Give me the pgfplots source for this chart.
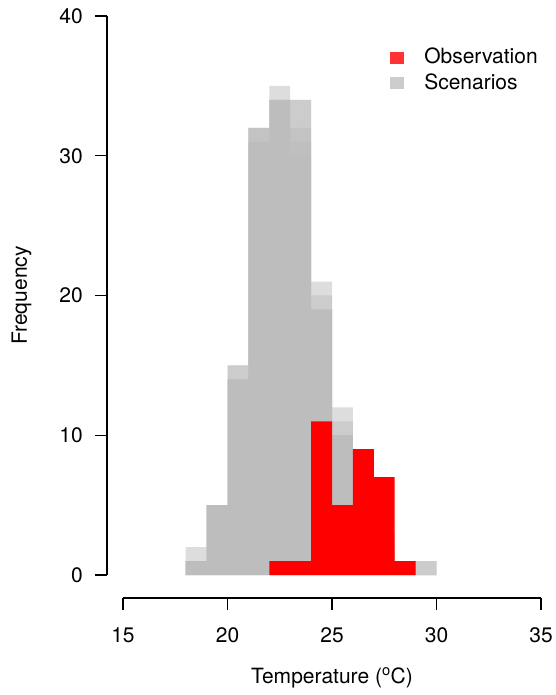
\documentclass[border=0pt]{standalone}
\usepackage{pgfplots}
\pgfplotsset{compat=1.18}
\usepackage{fontspec}
\setmainfont{TeX Gyre Heros}

\definecolor{scen}{HTML}{BBBBBB}
\definecolor{obsred}{HTML}{FF0000}
\definecolor{legred}{HTML}{FF3333}
\definecolor{leggray}{HTML}{CCCCCC}

\begin{document}
\fontsize{21}{25}\selectfont
\begin{tikzpicture}
\path[use as bounding box] (0pt,0pt) rectangle (556pt,695pt);
\begin{axis}[
    at={(123pt,120pt)}, anchor=south west,
    scale only axis, width=418pt, height=559pt,
    xmin=15, xmax=35, ymin=0, ymax=40,
    axis x line=bottom, axis y line=left,
    axis x line shift=23pt, axis y line shift=16pt,
    axis line style={-, line width=1.2pt},
    xtick={15,20,25,30,35}, ytick={0,10,20,30,40},
    minor tick num=0,
    tick align=outside, major tick length=12pt,
    tick style={line width=1.2pt, black},
    /pgf/number format/assume math mode=true,
    ticklabel style={font=\fontsize{21}{25}\selectfont},
    yticklabel style={anchor=east, xshift=-5pt},
    xticklabel style={yshift=-10pt},
    xlabel={Temperature (\textsuperscript{o}C)},
    xlabel style={at={(axis description cs:0.5,-0.1932)}, anchor=base},
    ylabel={Frequency},
    ylabel style={at={(axis description cs:-0.2297,0.5)}, anchor=base},
    label style={font=\fontsize{21}{25}\selectfont},
    legend style={at={(axis cs:27.78,37.85)}, anchor=north west,
        draw=none, fill=none, inner sep=0pt,
        font=\fontsize{21}{25}\selectfont, row sep=3pt},
    legend cell align=left,
    legend image code/.code={\fill[#1] (0pt,-6pt) rectangle (14pt,6pt); \path (32pt,0pt);},
]
\addlegendimage{fill=legred, draw=none}
\addlegendentry{Observation}
\addlegendimage{fill=leggray, draw=none}
\addlegendentry{Scenarios}

% scenario histograms, 1-degree bins from 18 to 30, drawn semi-transparent
\addplot[forget plot, ybar interval, fill=scen, fill opacity=0.5, draw=none] coordinates
{(18,2) (19,5) (20,15) (21,32) (22,35) (23,34) (24,21) (25,12) (26,6) (27,3) (28,1) (29,1) (30,0)};
\addplot[forget plot, ybar interval, fill=scen, fill opacity=0.5, draw=none] coordinates
{(18,1) (19,5) (20,15) (21,32) (22,34) (23,34) (24,20) (25,11) (26,6) (27,3) (28,1) (29,1) (30,0)};
\addplot[forget plot, ybar interval, fill=scen, fill opacity=0.5, draw=none] coordinates
{(18,1) (19,5) (20,14) (21,32) (22,34) (23,32) (24,19) (25,10) (26,5) (27,2) (28,1) (29,0) (30,0)};
\addplot[forget plot, ybar interval, fill=scen, fill opacity=0.5, draw=none] coordinates
{(18,1) (19,5) (20,14) (21,31) (22,34) (23,31) (24,19) (25,10) (26,5) (27,2) (28,1) (29,0) (30,0)};
\addplot[forget plot, ybar interval, fill=scen, fill opacity=0.5, draw=none] coordinates
{(18,1) (19,5) (20,14) (21,31) (22,34) (23,30) (24,19) (25,10) (26,5) (27,2) (28,1) (29,0) (30,0)};

% observation histogram
\addplot[forget plot, ybar interval, fill=obsred, draw=none] coordinates
{(22,1) (23,1) (24,11) (25,5) (26,9) (27,7) (28,1) (29,0)};
\end{axis}
\end{tikzpicture}
\end{document}
